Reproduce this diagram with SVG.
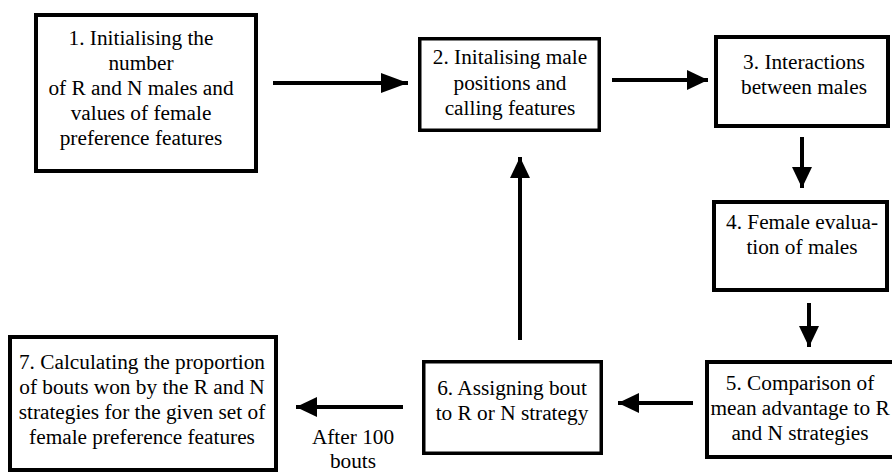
<svg xmlns="http://www.w3.org/2000/svg" width="892" height="473" viewBox="0 0 892 473">
<defs>
<style>
.box{fill:#fff;stroke:#000;stroke-width:4}
.thin{stroke-width:3.5}
.lbl{font-family:'Liberation Serif','Times New Roman','DejaVu Serif',serif;font-size:21.3px;fill:#000;text-anchor:middle}
.conn{stroke:#000;stroke-width:4;fill:none}
</style>
<marker id="ah" markerUnits="userSpaceOnUse" markerWidth="22" markerHeight="22" viewBox="0 0 22 20" refX="21" refY="10" orient="auto">
<path d="M0,0 L21,10 L0,20 Z" fill="#000"/>
</marker>
<marker id="ahL" markerUnits="userSpaceOnUse" markerWidth="28" markerHeight="22" viewBox="0 0 28 20" refX="27" refY="10" orient="auto">
<path d="M0,0 L27,10 L0,20 Z" fill="#000"/>
</marker>
</defs>
<rect width="892" height="473" fill="#fff"/>
<g id="connectors">
<line class="conn" x1="273" y1="83" x2="408" y2="83" marker-end="url(#ahL)"/>
<line class="conn" x1="612" y1="80" x2="708" y2="80" marker-end="url(#ah)"/>
<line class="conn" x1="802" y1="137" x2="802" y2="188" marker-end="url(#ah)"/>
<line class="conn" x1="809" y1="303" x2="809" y2="347" marker-end="url(#ah)"/>
<line class="conn" x1="693" y1="403" x2="618" y2="403" marker-end="url(#ah)"/>
<line class="conn" x1="520" y1="340" x2="520" y2="157" marker-end="url(#ah)"/>
<line class="conn" x1="403" y1="407" x2="296" y2="407" marker-end="url(#ah)"/>
<g id="label-after">
<text class="lbl" x="353" y="444">After 100</text>
<text class="lbl" x="353" y="468">bouts</text>
</g>
</g>
<g id="node1">
<rect class="box" x="36" y="15" width="220" height="156"/>
<text class="lbl" x="141" y="45">1. Initialising the</text>
<text class="lbl" x="141" y="70">number</text>
<text class="lbl" x="141" y="95">of R and N males and</text>
<text class="lbl" x="141" y="120">values of female</text>
<text class="lbl" x="141" y="145">preference features</text>
</g>
<g id="node2">
<rect class="box thin" x="419.75" y="38.75" width="179.5" height="91.5"/>
<text class="lbl" x="510" y="64">2. Initalising male</text>
<text class="lbl" x="510" y="89.5">positions and</text>
<text class="lbl" x="510" y="115">calling features</text>
</g>
<g id="node3">
<rect class="box" x="716" y="37" width="172" height="89"/>
<text class="lbl" x="804" y="69">3. Interactions</text>
<text class="lbl" x="804" y="94">between males</text>
</g>
<g id="node4">
<rect class="box" x="714" y="202" width="173" height="88"/>
<text class="lbl" x="802" y="229">4. Female evalua-</text>
<text class="lbl" x="802" y="254">tion of males</text>
</g>
<g id="node5">
<rect class="box" x="707" y="362" width="190" height="95"/>
<text class="lbl" x="800" y="390">5. Comparison of</text>
<text class="lbl" x="800" y="415">mean advantage to R</text>
<text class="lbl" x="800" y="440">and N strategies</text>
</g>
<g id="node6">
<rect class="box thin" x="423.75" y="361.75" width="177.5" height="91.5"/>
<text class="lbl" x="512" y="395">6. Assigning bout</text>
<text class="lbl" x="512" y="420">to R or N strategy</text>
</g>
<g id="node7">
<rect class="box" x="10" y="337" width="266" height="133"/>
<text class="lbl" x="142" y="369">7. Calculating the proportion</text>
<text class="lbl" x="142" y="394">of bouts won by the R and N</text>
<text class="lbl" x="142" y="419">strategies for the given set of</text>
<text class="lbl" x="142" y="444">female preference features</text>
</g>
</svg>
